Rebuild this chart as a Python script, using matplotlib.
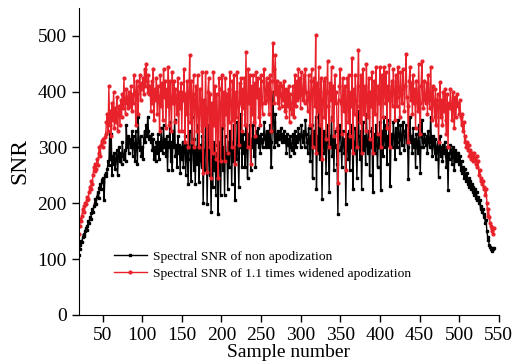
import numpy as np
import matplotlib
matplotlib.use("Agg")
import matplotlib.pyplot as plt

# === SNR values (samples 20 .. 544) ===
snr_non_apod = [
    108, 118, 125, 132, 130, 140, 145, 142, 150, 155,
    152, 160, 168, 165, 175, 172, 182, 190, 185, 195,
    200, 208, 198, 212, 220, 210, 228, 235, 225, 242,
    245, 238, 205, 250, 255, 248, 262, 275, 268, 325,
    280, 325, 250, 285, 270, 290, 262, 280, 295, 250,
    285, 300, 275, 290, 270, 310, 285, 280, 295, 275,
    340, 300, 320, 290, 315, 310, 300, 330, 285, 320,
    305, 275, 330, 300, 270, 355, 310, 295, 320, 285,
    300, 280, 315, 330, 310, 340, 320, 355,
    330, 315, 320, 310, 325, 295, 315, 280, 300, 275,
    310, 290, 325, 280, 310, 295, 335, 300, 290, 340,
    300, 315, 285, 320, 260, 310, 300, 345, 275, 310,
    260, 330, 300, 350, 285, 305, 265, 320, 290, 305,
    255, 300, 280, 310, 265, 300, 320, 250, 305, 290,
    235, 295, 330, 280, 240, 355, 300, 260, 315, 235,
    300, 270, 340, 285, 238, 305, 280, 265, 320, 200,
    295, 260, 355, 310, 198, 290, 340, 250, 300, 184,
    285, 230, 310, 260, 305, 215, 290, 270, 181, 300,
    310, 215, 290, 335, 260, 300, 215, 320, 280, 290,
    225, 310, 265, 330, 300, 235, 310, 275, 340, 205,
    300, 280, 345, 290, 230, 315, 300, 360, 265, 325,
    290, 310, 265, 340, 300, 245, 325, 305, 340, 260,
    315, 300, 340, 285, 320, 265, 330, 310, 335, 300,
    320, 290, 325, 310, 300, 315, 345, 320, 300, 330,
    305, 325, 300, 340, 310, 265, 330, 400, 345, 300,
    360, 310, 325, 305, 330, 315, 320, 335, 310, 325,
    315, 330, 310, 320, 290, 325, 305, 315, 285, 320,
    300, 295, 325, 310, 290, 330, 300, 320, 310, 335,
    315, 325, 300, 340, 320, 310, 330, 300, 350, 325,
    310, 290, 335, 315, 275, 320, 340, 245, 310, 330,
    300, 355, 225, 320, 290, 390, 280, 310, 335, 208,
    305, 330, 290, 325, 255, 310, 340, 300, 220, 320,
    300, 355, 285, 315, 260, 330, 300, 305, 270, 181,
    295, 320, 340, 300, 265, 330, 310, 290, 315, 198,
    305, 325, 280, 330, 260, 315, 300, 340, 226, 310,
    290, 335, 305, 245, 320, 365, 300, 280, 330, 225,
    310, 345, 295, 320, 270, 360, 305, 290, 330, 250,
    310, 300, 335, 221, 305, 325, 290, 340, 305, 265,
    320, 300, 345, 224, 310, 330, 285, 355, 315, 300,
    340, 270, 320, 305, 350, 231, 310, 325, 300, 345,
    320, 280, 335, 310, 300, 350, 325, 290, 340, 315,
    305, 345, 330, 295, 320, 340, 310, 300, 243, 325,
    355, 310, 320, 290, 335, 300, 315, 265, 325, 305,
    290, 340, 300, 255, 320, 350, 310, 300, 325, 315,
    305, 320, 290, 330, 310, 300, 355, 315, 285, 320,
    305, 290, 315, 280, 300, 310, 247, 295, 320, 285,
    300, 275, 305, 290, 310, 285, 265, 300, 224, 290,
    280, 305, 295, 270, 300, 285, 260, 295, 275, 290,
    280, 290, 270, 285, 260, 275, 255, 265, 245, 262,
    250, 240, 255, 235, 245, 230, 240, 225, 235, 220,
    230, 215, 225, 210, 220, 205, 212, 200, 205, 190,
    195, 185, 190, 175, 180, 165, 170, 150, 140, 135,
    125, 122, 118, 120, 115, 118, 120,
]

snr_widened = [
    145, 160, 172, 168, 178, 190, 185, 195, 200, 198,
    205, 212, 208, 220, 230, 225, 240, 235, 250, 265,
    258, 270, 262, 280, 268, 290, 300, 285, 305, 312,
    300, 315, 310, 318, 325, 345, 360, 330, 410, 340,
    365, 320, 380, 350, 400, 335, 370, 345, 390, 330,
    360, 375, 340, 385, 355, 395, 370, 425, 380, 360,
    405, 390, 370, 400, 385, 375, 410, 365, 395, 380,
    430, 400, 340, 420, 395, 360, 410, 430, 385, 415,
    405, 425, 395, 440, 410, 450, 420, 400,
    430, 395, 410, 365, 420, 380, 440, 350, 405, 385,
    425, 360, 410, 390, 330, 430, 375, 415, 350, 440,
    390, 420, 335, 405, 375, 445, 340, 420, 385, 330,
    435, 380, 420, 345, 405, 390, 360, 425, 330, 400,
    370, 415, 330, 400, 385, 440, 310, 395, 360, 420,
    300, 400, 465, 345, 420, 310, 395, 430, 300, 385,
    410, 330, 430, 360, 300, 405, 375, 330, 435, 255,
    385, 340, 435, 370, 256, 400, 425, 300, 395, 245,
    380, 290, 435, 340, 410, 280, 395, 350, 245, 425,
    405, 275, 380, 430, 340, 400, 275, 425, 360, 395,
    290, 405, 345, 435, 380, 300, 420, 350, 430, 270,
    400, 355, 435, 375, 305, 415, 380, 425, 330, 405,
    370, 425, 340, 472, 385, 300, 440, 380, 430, 270,
    410, 360, 430, 345, 415, 320, 435, 390, 425, 355,
    405, 340, 430, 380, 360, 420, 440, 380, 395, 425,
    385, 415, 360, 430, 400, 330, 420, 488, 440, 380,
    465, 395, 420, 380, 410, 370, 415, 395, 375, 410,
    385, 420, 365, 405, 355, 400, 375, 410, 345, 395,
    370, 360, 410, 380, 355, 430, 375, 420, 385, 440,
    390, 425, 370, 435, 395, 385, 430, 380, 440, 400,
    385, 365, 430, 395, 340, 420, 440, 300, 405, 425,
    375, 502, 290, 415, 365, 445, 340, 400, 425, 280,
    385, 420, 355, 425, 315, 400, 455, 375, 300, 415,
    385, 445, 350, 410, 320, 430, 380, 400, 335, 236,
    385, 410, 440, 380, 325, 425, 390, 365, 410, 260,
    380, 425, 345, 430, 320, 400, 375, 461, 290, 405,
    360, 430, 385, 300, 410, 475, 375, 345, 430, 290,
    400, 440, 360, 410, 330, 450, 385, 355, 425, 315,
    400, 375, 435, 290, 395, 420, 360, 445, 390, 325,
    410, 380, 445, 300, 400, 430, 355, 445, 395, 380,
    435, 335, 410, 385, 448, 300, 400, 420, 375, 440,
    400, 350, 430, 390, 375, 445, 405, 355, 435, 395,
    380, 440, 410, 365, 410, 467, 390, 375, 310, 420,
    445, 385, 415, 360, 430, 380, 405, 335, 420, 385,
    365, 450, 380, 325, 410, 455, 385, 370, 420, 390,
    380, 415, 360, 430, 385, 370, 445, 390, 350, 410,
    380, 355, 405, 340, 385, 395, 310, 375, 418, 355,
    385, 340, 400, 365, 405, 350, 325, 395, 300, 380,
    370, 405, 375, 350, 400, 370, 335, 390, 355, 395,
    375, 380, 360, 385, 355, 340, 360, 330, 345, 310,
    320, 300, 310, 295, 305, 285, 295, 280, 290, 285,
    275, 290, 280, 270, 285, 265, 275, 250, 260, 240,
    245, 235, 240, 225, 230, 215, 225, 200, 178, 190,
    175, 165, 160, 150, 155, 145, 155,
]

first_sample = 20
x_black = np.arange(first_sample, first_sample + len(snr_non_apod))
x_red = np.arange(first_sample, first_sample + len(snr_widened))

plt.rcParams["font.family"] = ["Liberation Serif", "DejaVu Serif"]

fig = plt.figure(figsize=(5.25, 3.64), dpi=100)
ax = fig.add_axes([0.150, 0.135, 0.800, 0.843])

ax.plot(x_black, snr_non_apod, color="black", lw=1.0, marker="s", ms=2.0,
        label="Spectral SNR of non apodization")
ax.plot(x_red, snr_widened, color="#e8222b", lw=1.0, marker="o", ms=2.0,
        label="Spectral SNR of 1.1 times widened apodization")

ax.set_xlim(20, 550)
ax.set_ylim(0, 550)
ax.set_xticks(np.arange(50, 551, 50))
ax.set_yticks(np.arange(0, 501, 100))
ax.tick_params(labelsize=14, direction="out", length=5, width=1)
ax.spines["top"].set_visible(False)
ax.spines["right"].set_visible(False)
ax.set_xlabel("Sample number", fontsize=14, labelpad=0)
ax.set_ylabel("SNR", fontsize=17, labelpad=5)

ax.legend(loc="center left", bbox_to_anchor=(0.07, 0.162), frameon=False,
          fontsize=9.7, handlelength=2.45, handletextpad=0.45, numpoints=1,
          labelspacing=0.35, borderaxespad=0)

fig.savefig("out.png", dpi=100)
